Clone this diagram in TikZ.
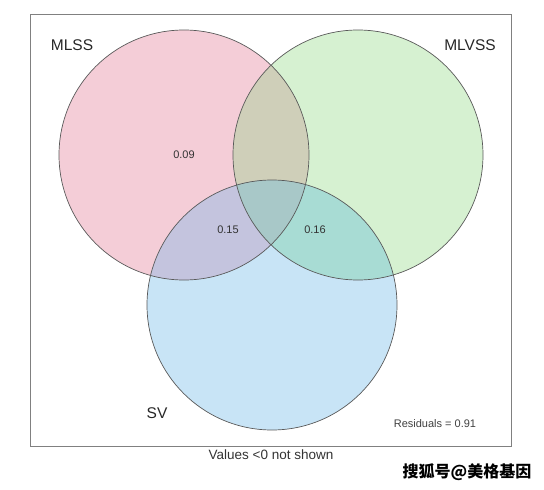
\documentclass[tikz,border=0pt]{standalone}
\usepackage{fontspec}
\setmainfont{Liberation Sans}
\newfontfamily\cjkfont{Noto Sans CJK SC}
\usepackage{xcolor}

\definecolor{mlss}{HTML}{F4CDD7}
\definecolor{mlvss}{HTML}{D6F1D1}
\definecolor{sv}{HTML}{C8E4F6}
\definecolor{mlssmlvss}{HTML}{CFCFB9}
\definecolor{mlsssv}{HTML}{C4C4DE}
\definecolor{mlvsssv}{HTML}{A8DCD4}
\definecolor{allthree}{HTML}{A8C8C8}

\tikzset{
  rim/.style={draw=black!65, line width=0.7pt},
  setlabel/.style={font=\fontsize{15.5}{18}\selectfont, text=black!85},
  value/.style={font=\fontsize{11}{13}\selectfont, text=black!80},
}

\begin{document}
\begin{tikzpicture}[x=1pt,y=-1pt]
\useasboundingbox (0,0) rectangle (544,490);

% --- frame ---
\draw[black!50, line width=0.8pt] (30,14) rectangle (511,446);

% --- set circles ---
\def\rad{125}
\coordinate (cmlss) at (184,155);
\coordinate (cmlvss) at (358,155);
\coordinate (csv) at (272,305);

\fill[mlss] (cmlss) circle (\rad);
\fill[mlvss] (cmlvss) circle (\rad);
\fill[sv] (csv) circle (\rad);

% --- overlaps ---
\begin{scope}
  \clip (cmlss) circle (\rad);
  \fill[mlssmlvss] (cmlvss) circle (\rad);
  \fill[mlsssv] (csv) circle (\rad);
\end{scope}
\begin{scope}
  \clip (cmlvss) circle (\rad);
  \fill[mlvsssv] (csv) circle (\rad);
  \clip (csv) circle (\rad);
  \fill[allthree] (cmlss) circle (\rad);
\end{scope}

% --- outlines ---
\foreach \c in {cmlss,cmlvss,csv} \draw[rim] (\c) circle (\rad);

% --- labels ---
\node[setlabel] (lmlss) at (72,45) {MLSS};
\node[setlabel] (lmlvss) at (470,45) {MLVSS};
\node[setlabel] (lsv) at (157,413) {SV};

\node[value] (v09) at (184,155) {0.09};
\node[value] (v15) at (228,230) {0.15};
\node[value] (v16) at (315,230) {0.16};

\node[font=\fontsize{11}{13}\selectfont, text=black!75] (resid) at (435,424) {Residuals = 0.91};
\node[font=\fontsize{13.5}{16}\selectfont, text=black!80] (note) at (271,455) {Values <0 not shown};

\node[font=\cjkfont\bfseries\fontsize{16}{19}\selectfont] (mark) at (467,472) {搜狐号@美格基因};
\end{tikzpicture}
\end{document}
